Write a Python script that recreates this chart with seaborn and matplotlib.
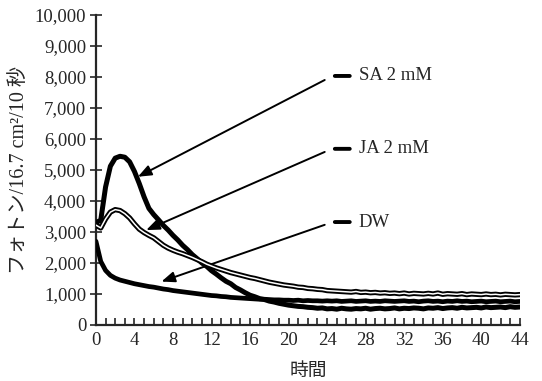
import numpy as np
import pandas as pd
import matplotlib
matplotlib.use("Agg")
import matplotlib.pyplot as plt
import seaborn as sns

# Sampling times (hours), every 30 minutes
hours = np.arange(0, 44.5, 0.5)

# Photon counts per 16.7 cm^2 per 10 s
sa_2mm = [
    3300, 3380, 4450, 5120, 5380, 5440, 5410, 5260, 4950, 4560,
    4130, 3760, 3560, 3390, 3210, 3060, 2890, 2740, 2570, 2430,
    2270, 2140, 2000, 1890, 1750, 1640, 1520, 1410, 1330, 1210,
    1130, 1040, 960, 910, 850, 820, 770, 740, 700, 670,
    640, 620, 600, 590, 570, 560, 540, 550, 520, 530,
    510, 540, 520, 510, 530, 520, 540, 510, 530, 540,
    520, 530, 550, 520, 540, 530, 550, 540, 520, 550,
    540, 560, 530, 550, 560, 540, 570, 550, 560, 570,
    550, 580, 560, 570, 580, 560, 590, 570, 580,
]
ja_2mm = [
    3220, 3130, 3420, 3640, 3720, 3690, 3590, 3450, 3260, 3090,
    2980, 2890, 2810, 2690, 2570, 2480, 2410, 2350, 2300, 2240,
    2180, 2110, 2040, 1960, 1900, 1840, 1790, 1740, 1690, 1650,
    1610, 1570, 1530, 1500, 1460, 1420, 1380, 1350, 1320, 1290,
    1270, 1250, 1220, 1210, 1180, 1170, 1150, 1140, 1110, 1100,
    1090, 1080, 1070, 1060, 1080, 1050, 1060, 1040, 1050, 1030,
    1040, 1020, 1030, 1010, 1030, 1000, 1020, 1010, 1000, 1020,
    1000, 1030, 990, 1010, 1000, 990, 1010, 980, 1000, 990,
    980, 1000, 980, 990, 970, 990, 980, 970, 980,
]
dw = [
    2700, 2050, 1760, 1600, 1510, 1450, 1410, 1370, 1330, 1300,
    1270, 1240, 1220, 1190, 1160, 1140, 1110, 1090, 1070, 1050,
    1030, 1010, 990, 970, 950, 940, 920, 910, 890, 880,
    870, 860, 850, 840, 830, 830, 820, 810, 810, 800,
    800, 790, 800, 780, 790, 780, 780, 770, 780, 770,
    780, 760, 770, 780, 760, 770, 780, 760, 770, 760,
    780, 770, 760, 770, 780, 760, 770, 750, 770, 780,
    760, 770, 750, 770, 760, 780, 760, 770, 750, 760,
    770, 750, 760, 770, 750, 760, 770, 750, 760,
]

series_labels = ["SA 2 mM", "JA 2 mM", "DW"]
x_ticks = list(range(0, 45, 4))
y_ticks = list(range(0, 10001, 1000))

df = pd.DataFrame({"時間": hours, "SA": sa_2mm, "JA": ja_2mm, "DW": dw})

sns.set_style("ticks")
serif_jp = ["Liberation Serif", "Noto Sans CJK JP"]
plt.rcParams["font.family"] = serif_jp

fig = plt.figure(figsize=(5.42, 3.81), dpi=100)
ax = fig.add_axes([0.177, 0.147, 0.782, 0.814])

# DW: solid heavy trace
sns.lineplot(data=df, x="時間", y="DW", ax=ax, color="black", lw=3.4, zorder=3)
# SA: solid heavy trace
sns.lineplot(data=df, x="時間", y="SA", ax=ax, color="black", lw=3.6, zorder=4)
# JA: hollow trace (black outline with white core)
sns.lineplot(data=df, x="時間", y="JA", ax=ax, color="black", lw=3.8, zorder=5)
sns.lineplot(data=df, x="時間", y="JA", ax=ax, color="white", lw=1.1, zorder=6)

ax.set_xlim(0, 44)
ax.set_ylim(0, 10000)
ax.set_xticks(x_ticks)
ax.set_xticks(range(0, 45, 1), minor=True)
ax.set_yticks(y_ticks)
ax.set_yticklabels([f"{v:,}" for v in y_ticks])
ax.tick_params(axis="x", which="both", direction="in", length=5, width=1.2,
               labelsize=13.5, pad=5)
ax.tick_params(axis="y", direction="inout", length=8, width=1.2,
               labelsize=13.5, pad=3)
for side in ("top", "right"):
    ax.spines[side].set_visible(False)
for side in ("left", "bottom"):
    ax.spines[side].set_linewidth(1.6)

ax.set_xlabel("時間", fontsize=13.5, family=serif_jp, labelpad=10)
ax.set_ylabel("フォトン/16.7 cm²/10 秒", fontsize=14.5, family=serif_jp, labelpad=4)

# Callouts: label, arrow tail/head, label row height
callouts = [
    ("SA 2 mM", (23.75, 7900), (4.36, 4780), 8030),
    ("JA 2 mM", (23.75, 5580), (5.22, 3060), 5680),
    ("DW", (23.75, 3230), (6.8, 1400), 3320),
]
for text, tail, head, row_y in callouts:
    ax.annotate("", xy=head, xytext=tail,
                arrowprops=dict(arrowstyle="-|>,head_length=0.8,head_width=0.32",
                                color="black", lw=1.4, shrinkA=0, shrinkB=0))
    ax.annotate("", xy=(26.35, row_y), xytext=(24.8, row_y),
                arrowprops=dict(arrowstyle="-", color="black", lw=2.8,
                                shrinkA=0, shrinkB=0))
    ax.text(27.3, row_y, text, fontsize=13.5, va="center", ha="left",
            family=serif_jp)

fig.savefig("out.png", dpi=100)
